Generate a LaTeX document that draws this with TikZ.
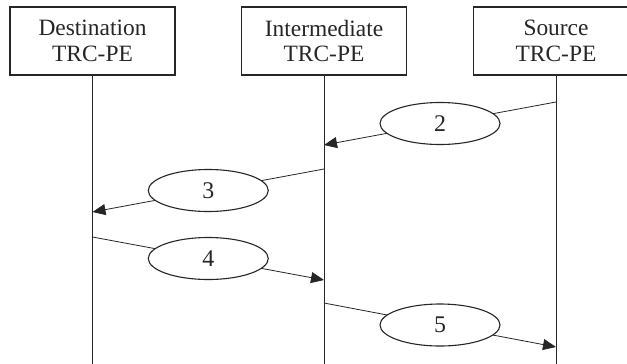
\documentclass[tikz,border=0pt]{standalone}
\usepackage{fontspec}
\setmainfont{Liberation Serif}
\usetikzlibrary{arrows.meta,shapes.geometric}
\begin{document}
\begin{tikzpicture}[x=1bp,y=-1bp,
  box/.style={draw=black!85, line width=1.1bp, minimum width=165bp, minimum height=68bp,
    inner sep=0pt, align=center, font=\fontsize{23.5}{25.7}\selectfont, text=black!85},
  life/.style={draw=black!85, line width=1bp},
  msg/.style={draw=black!85, line width=0.8bp, -{Triangle[length=13bp,width=11bp]}},
  oval/.style={ellipse, draw=black!85, fill=white, line width=1.1bp, minimum width=120bp,
    minimum height=42bp, inner sep=0pt, font=\fontsize{24}{26}\selectfont, text=black!85}]
\clip (0,0) rectangle (627,363);
\fill[white] (0,0) rectangle (627,363);
% boxes
\node[box] (dst) at (92.5,41) {Destination\\TRC-PE};
\node[box] (int) at (324,41) {Intermediate\\TRC-PE};
\node[box] (src) at (556,41) {Source\\TRC-PE};
% lifeline ends
\coordinate (dstE) at (92.5,370);
\coordinate (intE) at (324,370);
\coordinate (srcE) at (556,370);
\draw[life] (dst.south) -- (dstE);
\draw[life] (int.south) -- (intE);
\draw[life] (src.south) -- (srcE);
% message points
\coordinate (s2) at (556,102);
\coordinate (i2) at (324,145);
\coordinate (i3) at (324,169);
\coordinate (d3) at (92.5,212);
\coordinate (d4) at (92.5,237);
\coordinate (i4) at (324,280);
\coordinate (i5) at (324,303);
\coordinate (s5) at (556,347);
\draw[msg] (s2) -- node[oval] (m2) {2} (i2);
\draw[msg] (i3) -- node[oval] (m3) {3} (d3);
\draw[msg] (d4) -- node[oval] (m4) {4} (i4);
\draw[msg] (i5) -- node[oval] (m5) {5} (s5);
\end{tikzpicture}
\end{document}
